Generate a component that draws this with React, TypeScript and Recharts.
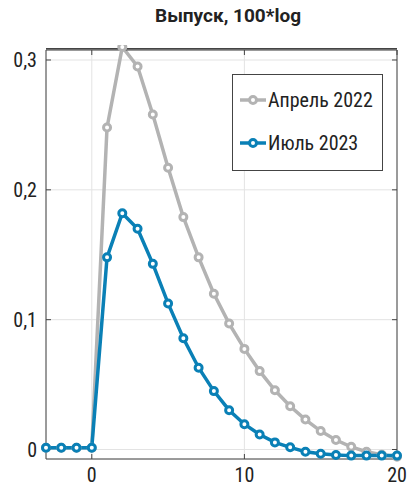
import { CartesianGrid, Line, LineChart, XAxis, YAxis } from 'recharts'

const horizons = [-3, -2, -1, 0, 1, 2, 3, 4, 5, 6, 7, 8, 9, 10, 11, 12, 13, 14, 15, 16, 17, 18, 19, 20]
const april2022 = [
  0.0014, 0.0014, 0.0014, 0.0014, 0.248, 0.31, 0.295, 0.258, 0.217, 0.179, 0.148, 0.12,
  0.097, 0.0775, 0.0604, 0.0456, 0.0333, 0.0231, 0.0142, 0.0073, 0.0021, -0.0017, -0.004, -0.0055,
]
const july2023 = [
  0.0014, 0.0014, 0.0014, 0.0014, 0.148, 0.182, 0.17, 0.143, 0.1125, 0.0857, 0.063, 0.045,
  0.0303, 0.0195, 0.0116, 0.0055, 0.0017, -0.0017, -0.0032, -0.0042, -0.0047, -0.0047, -0.0047, -0.0047,
]
const xTicks = [0, 10, 20]
const yTicks = [0, 0.1, 0.2, 0.3]
const seriesNames = ['Апрель 2022', 'Июль 2023']
const seriesColors = ['#b3b3b3', '#0a80b6']

const chartData = horizons.map((h, i) => ({ h, april: april2022[i], july: july2023[i] }))

const FONT = '"Liberation Sans Narrow", "Roboto Condensed", "DejaVu Sans Condensed", Roboto, sans-serif'
const TITLE_FONT = 'Roboto, sans-serif'
const INK = '#222'
const FRAME = '#444'
const X_DOMAIN: [number, number] = [-3, 20]
const Y_DOMAIN: [number, number] = [-0.0073, 0.3077]

// plot box (matches the chart margins below)
const PLOT = { left: 46, top: 49, right: 397, bottom: 459 }

const fmtY = (v: number) => (v === 0 ? '0' : String(v).replace('.', ','))

function LegendIcon({ color }: { color: string }) {
  return (
    <svg width={28} height={12} style={{ display: 'block' }}>
      <line x1={1} y1={6} x2={27} y2={6} stroke={color} strokeWidth={3.5} />
      <circle cx={14} cy={6} r={3.5} fill="#fff" stroke={color} strokeWidth={3} />
    </svg>
  )
}

export default function App() {
  const tickStyle = { fill: INK, fontSize: 20, fontFamily: FONT }
  return (
    <div
      style={{
        position: 'absolute',
        left: 0,
        top: 0,
        width: 409,
        height: 492,
        background: '#fff',
        fontFamily: FONT,
      }}
    >
      {/* top edge of the frame, under the chart so the peak marker sits on it */}
      <div
        style={{
          position: 'absolute',
          left: PLOT.left,
          top: PLOT.top - 1,
          width: PLOT.right - PLOT.left,
          height: 1.5,
          background: FRAME,
          pointerEvents: 'none',
        }}
      />
      <LineChart
        width={409}
        height={492}
        data={chartData}
        margin={{ top: PLOT.top, right: 409 - PLOT.right - 1, bottom: 0, left: 0 }}
      >
        <CartesianGrid stroke="#e3e3e3" strokeWidth={1} />
        <XAxis
          dataKey="h"
          type="number"
          domain={X_DOMAIN}
          ticks={xTicks}
          height={492 - PLOT.bottom}
          tick={tickStyle}
          tickSize={-5}
          tickMargin={14}
          stroke={FRAME}
        />
        <XAxis
          xAxisId="top"
          dataKey="h"
          orientation="top"
          type="number"
          domain={X_DOMAIN}
          ticks={xTicks}
          height={1}
          tickFormatter={() => ''}
          tickSize={-5}
          stroke={FRAME}
        />
        <YAxis
          type="number"
          domain={Y_DOMAIN}
          allowDataOverflow
          ticks={yTicks}
          width={PLOT.left}
          tick={tickStyle}
          tickSize={-5}
          tickMargin={14}
          tickFormatter={fmtY}
          stroke={FRAME}
        />
        <YAxis
          yAxisId="right"
          orientation="right"
          type="number"
          domain={Y_DOMAIN}
          allowDataOverflow
          ticks={yTicks}
          width={1}
          tickFormatter={() => ''}
          tickSize={-5}
          stroke={FRAME}
        />
        {/* invisible series so the top/right frame axes get drawn */}
        <Line
          xAxisId="top"
          yAxisId="right"
          dataKey="july"
          stroke="none"
          dot={false}
          activeDot={false}
          legendType="none"
          isAnimationActive={false}
        />
        <Line
          dataKey="april"
          stroke={seriesColors[0]}
          strokeWidth={3.5}
          dot={{ r: 3.5, fill: '#fff', stroke: seriesColors[0], strokeWidth: 3, clipDot: false }}
          isAnimationActive={false}
        />
        <Line
          dataKey="july"
          stroke={seriesColors[1]}
          strokeWidth={3.5}
          dot={{ r: 3.5, fill: '#fff', stroke: seriesColors[1], strokeWidth: 3, clipDot: false }}
          isAnimationActive={false}
        />
      </LineChart>
      <div
        style={{
          position: 'absolute',
          left: 0,
          width: 456,
          top: 4,
          textAlign: 'center',
          fontFamily: TITLE_FONT,
          fontWeight: 700,
          fontSize: 19,
          color: INK,
          whiteSpace: 'nowrap',
        }}
      >
        Выпуск, 100*log
      </div>
      <div
        style={{
          position: 'absolute',
          left: 232,
          top: 74,
          width: 149,
          height: 95,
          border: `1px solid ${FRAME}`,
          background: '#fff',
        }}
      >
        {seriesNames.map((name, i) => (
          <div
            key={name}
            style={{
              position: 'absolute',
              left: 6,
              top: 13 + i * 43,
              display: 'flex',
              alignItems: 'center',
              gap: 1,
              fontSize: 20,
              color: INK,
              whiteSpace: 'nowrap',
            }}
          >
            <LegendIcon color={seriesColors[i]} />
            <span>{name}</span>
          </div>
        ))}
      </div>
    </div>
  )
}
